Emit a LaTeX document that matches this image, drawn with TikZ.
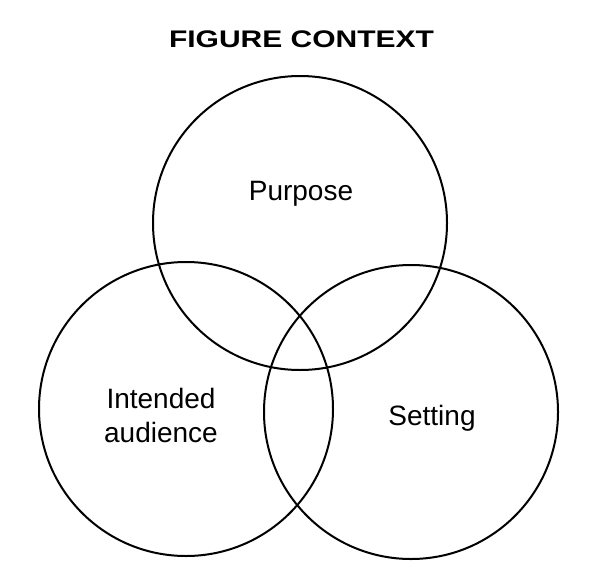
\documentclass[tikz,border=0pt]{standalone}
\usepackage{fontspec}
\setmainfont{Liberation Sans}
\begin{document}
\begin{tikzpicture}[
    x=0.75pt, y=-0.75pt,
    venn/.style={circle, draw, line width=1.5pt, minimum size=220.5pt, inner sep=0pt},
    txt/.style={font=\fontsize{21}{25.5}\selectfont, align=center, inner sep=0pt}
]
\useasboundingbox (0,0) rectangle (606,574);

% Titel
\node[anchor=base, inner sep=0pt, font=\fontsize{18}{20}\selectfont\bfseries] (title) at (301.5,48) {\scalebox{1.25}[1]{FIGURE CONTEXT}};

% Kreise
\node[venn] (purpose) at (300,223) {};
\node[venn] (audience) at (186,409) {};
\node[venn] (setting) at (411,412) {};

% Beschriftungen
\node[txt, anchor=base] (purposetxt) at (301,200) {Purpose};
\node[txt] (audiencetxt) at (161,415) {Intended\\audience};
\node[txt, anchor=base] (settingtxt) at (432,425) {Setting};

\end{tikzpicture}
\end{document}
